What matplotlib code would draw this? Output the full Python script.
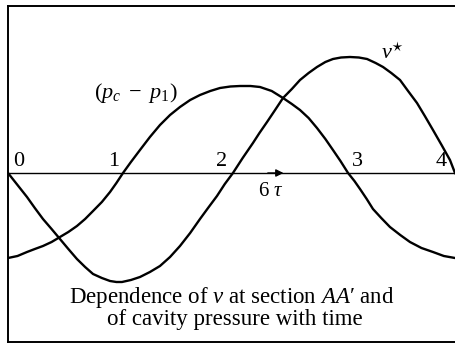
import matplotlib
matplotlib.use("Agg")
import matplotlib.pyplot as plt

plt.rcParams['font.family'] = ['Liberation Serif', 'DejaVu Serif']
plt.rcParams['mathtext.fontset'] = 'custom'
plt.rcParams['mathtext.rm'] = 'Liberation Serif'
plt.rcParams['mathtext.it'] = 'Liberation Serif:italic'
plt.rcParams['mathtext.bf'] = 'Liberation Serif:bold'

# time in units of the marked points 0..4
t_p = [0.0, 0.085, 0.17, 0.24, 0.313, 0.39, 0.465, 0.54, 0.617, 0.69,
       0.761, 0.84, 0.913, 0.97, 1.029, 1.10, 1.181, 1.27, 1.36, 1.45,
       1.539, 1.63, 1.718, 1.81, 1.897, 1.99, 2.076, 2.17, 2.255, 2.36,
       2.461, 2.54, 2.613, 2.69, 2.765, 2.84, 2.908, 2.975, 3.043, 3.10,
       3.15, 3.21, 3.266, 3.34, 3.418, 3.51, 3.597, 3.70, 3.803, 3.90, 4.0]
# cavity pressure (p_c - p_1)
p_vals = [-0.85, -0.83, -0.79, -0.76, -0.73, -0.69, -0.64, -0.59, -0.53, -0.46,
          -0.38, -0.29, -0.19, -0.10, 0.0, 0.11, 0.23, 0.36, 0.48, 0.58,
          0.66, 0.73, 0.78, 0.82, 0.85, 0.865, 0.87, 0.87, 0.86, 0.82,
          0.75, 0.69, 0.63, 0.55, 0.45, 0.34, 0.23, 0.12, 0.0, -0.08,
          -0.16, -0.26, -0.36, -0.45, -0.54, -0.62, -0.69, -0.75, -0.79, -0.83, -0.85]

t_v = [0.0, 0.085, 0.17, 0.24, 0.313, 0.39, 0.465, 0.54, 0.617, 0.69,
       0.761, 0.84, 0.913, 0.97, 1.02, 1.10, 1.181, 1.27, 1.36, 1.45,
       1.539, 1.63, 1.718, 1.79, 1.87, 1.94, 2.013, 2.10, 2.192, 2.25,
       2.318, 2.39, 2.461, 2.54, 2.613, 2.69, 2.765, 2.84, 2.908, 2.98,
       3.06, 3.14, 3.213, 3.29, 3.356, 3.43, 3.508, 3.58, 3.66, 3.73,
       3.803, 3.88, 3.955, 4.0]
# velocity v* at section AA'
v_vals = [0.0, -0.12, -0.24, -0.35, -0.46, -0.56, -0.66, -0.76, -0.86, -0.94,
          -1.01, -1.05, -1.08, -1.09, -1.09, -1.07, -1.04, -0.99, -0.93, -0.84,
          -0.73, -0.60, -0.46, -0.35, -0.23, -0.11, 0.0, 0.15, 0.30, 0.40,
          0.51, 0.63, 0.75, 0.84, 0.93, 1.00, 1.06, 1.11, 1.14, 1.155,
          1.16, 1.155, 1.14, 1.10, 1.06, 1.00, 0.93, 0.82, 0.70, 0.57,
          0.43, 0.28, 0.13, 0.0]

tick_pos = [0, 1, 2, 3, 4]
tick_labels = ["0", "1", "2", "3", "4"]

fig = plt.figure(figsize=(4.55, 3.44), dpi=100)
ax = fig.add_axes([8 / 455, 2 / 344, 447 / 455, 336 / 344])
ax.set_xlim(0, 4)
ax.set_ylim(-1.69, 1.67)

ax.plot(t_p, p_vals, color='black', lw=1.7, solid_joinstyle='round')
ax.plot(t_v, v_vals, color='black', lw=1.7, solid_joinstyle='round')

# time axis with arrow
ax.axhline(0, color='black', lw=1.0)
ax.annotate("", xy=(2.49, 0), xytext=(2.3, 0),
            arrowprops=dict(arrowstyle='-|>', color='black', lw=1.0,
                            mutation_scale=11))
ax.text(2.35, -0.19, r"6 $\tau$", fontsize=15, ha='center', va='center')

offs = [0.1, -0.05, -0.085, 0.13, -0.125]
for x, lab, d in zip(tick_pos, tick_labels, offs):
    ax.text(x + d, 0.115, lab, fontsize=16, ha='center', va='center')

ax.text(1.14, 0.80, r"$(p_c\ -\ p_1)$", fontsize=16, ha='center', va='center')
ax.text(3.445, 1.19, r"$v^{\star}$", fontsize=16, ha='center', va='center')

ax.text(2.0, -1.25, "Dependence of $v$ at section $AA$\u2032 and",
        fontsize=16.5, ha='center', va='center')
ax.text(2.03, -1.46, "of cavity pressure with time",
        fontsize=16.5, ha='center', va='center')

ax.set_xticks([])
ax.set_yticks([])
for side in ['left', 'top', 'bottom']:
    ax.spines[side].set_linewidth(1.4)
ax.spines['right'].set_visible(False)

fig.savefig("out.png", dpi=100)
